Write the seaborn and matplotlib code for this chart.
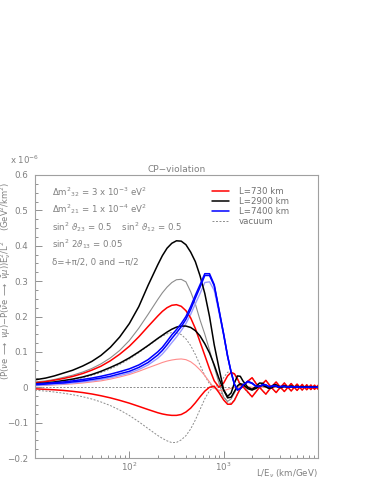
import math
import matplotlib
matplotlib.use("Agg")
import matplotlib.pyplot as plt
from matplotlib.lines import Line2D
from matplotlib.ticker import FixedLocator, MultipleLocator, FuncFormatter, NullFormatter
import seaborn as sns
import pandas as pd

# ---------------- data ----------------
x_le = [10, 13, 16, 20, 25, 32, 40, 50, 63, 79,
        100, 126, 158, 200, 224, 251, 282, 316, 355, 398,
        447, 501, 562, 631, 708, 794, 891, 1000,
        1100, 1200, 1300, 1400, 1500, 1600,
        1800, 2000, 2200, 2400, 2600, 2800, 3000, 3200, 3400, 3600, 3800, 4000,
        4400, 4800, 5200, 5600, 6000, 6400, 6800, 7200, 7600, 8000, 8400, 8800, 9200, 9600, 10000]

vac_plus = [0.0084, 0.0109, 0.0134, 0.0168, 0.0210, 0.0268, 0.0333, 0.0415, 0.0519, 0.0643,
            0.0798, 0.0976, 0.1167, 0.1363, 0.1445, 0.1509, 0.1547, 0.1544, 0.1488, 0.1369,
            0.1178, 0.0925, 0.0626, 0.0327, 0.0096, 0.0, 0.0075, 0.0273,
            0.0423, 0.0454, 0.0358, 0.0195, 0.0053, 0.0,
            0.0151, 0.0273, 0.0124, 0.0, 0.0105, 0.0195, 0.0091, 0.0, 0.0080, 0.0151, 0.0072, 0.0,
            0.0124, 0.0, 0.0105, 0.0, 0.0091, 0.0, 0.0080, 0.0, 0.0072, 0.0, 0.0065, 0.0, 0.0059, 0.0, 0.0055]
vac_zero = [0.0] * 61
vac_minus = [-0.0084, -0.0109, -0.0134, -0.0168, -0.0210, -0.0268, -0.0333, -0.0415, -0.0519, -0.0643,
             -0.0798, -0.0976, -0.1167, -0.1363, -0.1445, -0.1515, -0.1565, -0.1560, -0.1488, -0.1369,
             -0.1178, -0.0925, -0.0626, -0.0327, -0.0096, 0.0, -0.0075, -0.0273,
             -0.0423, -0.0454, -0.0358, -0.0195, -0.0053, 0.0,
             -0.0151, -0.0273, -0.0124, 0.0, -0.0105, -0.0195, -0.0091, 0.0, -0.0080, -0.0151, -0.0072, 0.0,
             -0.0124, 0.0, -0.0105, 0.0, -0.0091, 0.0, -0.0080, 0.0, -0.0072, 0.0, -0.0065, 0.0, -0.0059, 0.0, -0.0055]

red_plus = [0.0124, 0.0159, 0.0199, 0.0248, 0.0305, 0.0388, 0.0483, 0.0595, 0.0749, 0.0933,
            0.1158, 0.1426, 0.1717, 0.2013, 0.2145, 0.2249, 0.2317, 0.2334, 0.2288, 0.2165,
            0.196, 0.166, 0.128, 0.09, 0.052, 0.018, 0.0, 0.012,
            0.032, 0.042, 0.038, 0.024, 0.008, 0.002,
            0.017, 0.027, 0.011, 0.0, 0.0105, 0.0195, 0.009, 0.0, 0.008, 0.015, 0.007, 0.0,
            0.012, 0.0, 0.0105, 0.0, 0.009, 0.0, 0.008, 0.0, 0.007, 0.0, 0.0065, 0.0, 0.006, 0.0, 0.0055]
red_zero = [0.004, 0.005, 0.0065, 0.008, 0.0095, 0.012, 0.015, 0.018, 0.023, 0.029,
            0.036, 0.045, 0.055, 0.065, 0.07, 0.074, 0.077, 0.079, 0.08, 0.078,
            0.072, 0.062, 0.049, 0.033, 0.015, -0.002, -0.009, -0.01,
            -0.006, -0.003, -0.001, 0.0, 0.001, 0.002,
            0.002, 0.0, -0.001, 0.0, 0.0, 0.0, 0.0, 0.0, 0.0, 0.0, 0.0, 0.0,
            0.0, 0.0, 0.0, 0.0, 0.0, 0.0, 0.0, 0.0, 0.0, 0.0, 0.0, 0.0, 0.0, 0.0, 0.0]
red_minus = [-0.0044, -0.006, -0.0072, -0.009, -0.0115, -0.015, -0.019, -0.024, -0.030, -0.037,
             -0.045, -0.054, -0.063, -0.072, -0.0755, -0.078, -0.0795, -0.0795, -0.077, -0.07,
             -0.059, -0.044, -0.027, -0.011, 0.0, 0.003, -0.015, -0.036,
             -0.048, -0.048, -0.037, -0.0195, -0.004, 0.002,
             -0.013, -0.027, -0.013, 0.0, -0.0105, -0.0195, -0.009, 0.0, -0.008, -0.015, -0.007, 0.0,
             -0.012, 0.0, -0.0105, 0.0, -0.009, 0.0, -0.008, 0.0, -0.007, 0.0, -0.0065, 0.0, -0.006, 0.0, -0.0055]

black_plus = [0.021, 0.026, 0.032, 0.04, 0.048, 0.06, 0.073, 0.09, 0.113, 0.142,
              0.18, 0.228, 0.288, 0.346, 0.372, 0.393, 0.407, 0.414, 0.413, 0.403,
              0.382, 0.355, 0.315, 0.265, 0.2, 0.12, 0.055, -0.008,
              -0.03, -0.028, -0.012, 0.004, 0.01, 0.008,
              -0.004, -0.008, -0.003, 0.004, 0.005, 0.001, -0.003, -0.002, 0.002, 0.003, 0.0, -0.001,
              0.002, 0.0, 0.001, 0.0, 0.001, 0.0, 0.0, 0.0, 0.0, 0.0, 0.0, 0.0, 0.0, 0.0, 0.0]
black_zero = [0.015, 0.018, 0.022, 0.028, 0.034, 0.043, 0.053, 0.066, 0.083, 0.104,
              0.132, 0.167, 0.206, 0.248, 0.267, 0.283, 0.296, 0.304, 0.305, 0.298,
              0.27, 0.235, 0.19, 0.15, 0.105, 0.058, 0.012, -0.028,
              -0.04, -0.033, -0.016, 0.0, 0.008, 0.007,
              0.0, -0.005, -0.004, 0.001, 0.003, 0.001, -0.002, -0.002, 0.0, 0.002, 0.001, -0.001,
              0.001, 0.0, 0.0, 0.0, 0.0, 0.0, 0.0, 0.0, 0.0, 0.0, 0.0, 0.0, 0.0, 0.0, 0.0]
black_minus = [0.01, 0.012, 0.015, 0.019, 0.023, 0.029, 0.036, 0.045, 0.056, 0.068,
               0.083, 0.1, 0.118, 0.138, 0.147, 0.156, 0.164, 0.17, 0.173, 0.173,
               0.169, 0.16, 0.145, 0.123, 0.097, 0.063, 0.025, -0.008,
               -0.026, -0.016, 0.012, 0.032, 0.031, 0.018,
               0.0, -0.006, 0.002, 0.012, 0.011, 0.003, -0.002, 0.002, 0.007, 0.007, 0.003, 0.0,
               0.005, 0.001, 0.004, 0.001, 0.003, 0.001, 0.002, 0.001, 0.002, 0.001, 0.001, 0.0, 0.001, 0.0, 0.0]

blue_plus = [0.009, 0.011, 0.013, 0.015, 0.018, 0.022, 0.026, 0.031, 0.037, 0.044,
             0.052, 0.063, 0.078, 0.1, 0.113, 0.13, 0.148, 0.163, 0.18, 0.2,
             0.228, 0.26, 0.29, 0.321, 0.321, 0.29, 0.22, 0.15,
             0.088, 0.042, 0.008, -0.008, -0.004, 0.006,
             0.017, 0.012, 0.003, 0.002, 0.008, 0.007, 0.002, 0.002, 0.005, 0.004, 0.001, 0.002,
             0.003, 0.001, 0.002, 0.001, 0.001, 0.0, 0.0, 0.0, 0.0, 0.0, 0.0, 0.0, 0.0, 0.0, 0.0]
blue_minus = [0.007, 0.009, 0.011, 0.012, 0.015, 0.018, 0.022, 0.026, 0.031, 0.038,
              0.045, 0.056, 0.07, 0.091, 0.104, 0.12, 0.138, 0.154, 0.171, 0.192,
              0.22, 0.252, 0.283, 0.316, 0.316, 0.287, 0.219, 0.15,
              0.089, 0.043, 0.009, -0.007, -0.004, 0.006,
              0.016, 0.011, 0.003, 0.002, 0.007, 0.006, 0.002, 0.002, 0.004, 0.003, 0.001, 0.002,
              0.002, 0.001, 0.001, 0.001, 0.001, 0.0, 0.0, 0.0, 0.0, 0.0, 0.0, 0.0, 0.0, 0.0, 0.0]
blue_zero = [0.005, 0.0065, 0.008, 0.0095, 0.012, 0.015, 0.018, 0.022, 0.027, 0.033,
             0.04, 0.05, 0.063, 0.082, 0.094, 0.109, 0.126, 0.142, 0.16, 0.18,
             0.206, 0.236, 0.265, 0.296, 0.298, 0.274, 0.212, 0.146,
             0.087, 0.042, 0.009, -0.006, -0.003, 0.005,
             0.014, 0.010, 0.003, 0.002, 0.006, 0.005, 0.002, 0.002, 0.004, 0.003, 0.001, 0.001,
             0.002, 0.001, 0.001, 0.0, 0.0, 0.0, 0.0, 0.0, 0.0, 0.0, 0.0, 0.0, 0.0, 0.0, 0.0]

legend_labels = ["L=730 km", "L=2900 km", "L=7400 km", "vacuum"]
y_ticks = [-0.2, -0.1, 0.0, 0.1, 0.2, 0.3, 0.4, 0.5, 0.6]
x_ticks = [100, 1000]

# ---------------- figure ----------------
sns.set_style("white")
plt.rcParams['font.family'] = ['DejaVu Sans']
plt.rcParams['mathtext.fontset'] = 'dejavusans'

GRAY = "#808080"
fig = plt.figure(figsize=(3.82, 4.94), dpi=100)
ax = fig.add_axes([35/382, 1-458/494, 283/382, 283/494])

VAC = dict(color="#8c8c8c", lw=0.7, linestyle=(0, (2.0, 1.6)))
curves = [
    (vac_plus, VAC), (vac_zero, VAC), (vac_minus, VAC),
    (black_zero, dict(color="#8c8c8c", lw=0.8)),
    (red_zero, dict(color="#ff8c8c", lw=0.8)),
    (blue_zero, dict(color="#9a9aff", lw=1.0)),
    (red_plus, dict(color="#ff0000", lw=1.1)),
    (red_minus, dict(color="#ff0000", lw=1.1)),
    (black_plus, dict(color="#000000", lw=1.1)),
    (black_minus, dict(color="#000000", lw=1.1)),
    (blue_minus, dict(color="#0000ff", lw=1.1)),
    (blue_plus, dict(color="#0000ff", lw=1.1)),
]
for ys, st in curves:
    df = pd.DataFrame({"x": x_le, "y": ys})
    sns.lineplot(data=df, x="x", y="y", ax=ax, estimator=None, sort=False, **st)

ax.set_xscale("log")
ax.set_xlim(10, 10000)
ax.set_ylim(-0.2, 0.6)
ax.set_xlabel("")
ax.set_ylabel("")

ax.xaxis.set_major_locator(FixedLocator(x_ticks))
ax.xaxis.set_major_formatter(FuncFormatter(lambda v, p: r"$10^{%d}$" % round(math.log10(v))))
ax.xaxis.set_minor_locator(FixedLocator([k*10**e for e in (1, 2, 3) for k in range(2, 10)]))
ax.xaxis.set_minor_formatter(NullFormatter())
ax.yaxis.set_major_locator(FixedLocator(y_ticks))
ax.yaxis.set_minor_locator(MultipleLocator(0.025))

def yfmt(v, p):
    if abs(v) < 1e-9:
        return "0"
    return ("%.1f" % v).replace("-", "\u2212")
ax.yaxis.set_major_formatter(FuncFormatter(yfmt))

ax.tick_params(which="both", direction="in", colors=GRAY, labelcolor=GRAY, width=0.6,
               bottom=True, left=True, top=False, right=False)
ax.tick_params(which="major", length=5, labelsize=6.3)
ax.tick_params(which="minor", length=2.5)
ax.tick_params(axis="x", which="major", pad=2)
ax.tick_params(axis="y", which="major", pad=5)
for s in ax.spines.values():
    s.set_color("#a0a0a0")
    s.set_linewidth(0.8)

# legend
handles = [Line2D([], [], color="#ff0000", lw=1.1),
           Line2D([], [], color="#000000", lw=1.1),
           Line2D([], [], color="#0000ff", lw=1.1),
           Line2D([], [], **VAC)]
ax.legend(handles, legend_labels, loc="upper left", bbox_to_anchor=(212/382, 1-187/494),
          bbox_transform=fig.transFigure, frameon=False, fontsize=6.2, labelcolor="#707070",
          handlelength=2.0, handletextpad=1.1, labelspacing=0.12, borderpad=0, borderaxespad=0)

# texts
TXT = dict(color=GRAY, fontsize=6.2, va="center", ha="left")
fig.text(52/382, 1-192/494, r"$\Delta$m$^2{}_{32}$ = 3 x 10$^{-3}$ eV$^2$", **TXT)
fig.text(52/382, 1-209/494, r"$\Delta$m$^2{}_{21}$ = 1 x 10$^{-4}$ eV$^2$", **TXT)
fig.text(52/382, 1-227/494, r"sin$^2$ $\vartheta_{23}$ = 0.5    sin$^2$ $\vartheta_{12}$ = 0.5", **TXT)
fig.text(52/382, 1-244/494, r"sin$^2$ 2$\vartheta_{13}$ = 0.05", **TXT)
fig.text(52/382, 1-262/494, "\u03b4=+\u03c0/2, 0 and \u2212\u03c0/2", **TXT)

fig.text(176.5/382, 1-169/494, "CP\u2212violation", color=GRAY, fontsize=6.5, ha="center", va="center")
fig.text(10/382, 1-160/494, r"x 10$^{-6}$", color=GRAY, fontsize=6.2, ha="left", va="center")
fig.text(318/382, 1-474/494, r"L/E$_\nu$ (km/GeV)", color=GRAY, fontsize=6.2, ha="right", va="center")
fig.text(6/382, 1-281/494,
         r"(P($\nu$e $\longrightarrow$ $\nu\mu$)$-$P($\bar{\nu}$e $\longrightarrow$ $\bar{\nu}\mu$))E$^2_\nu$/L$^2$    (GeV$^2$/km$^2$)",
         color=GRAY, fontsize=6.0, rotation=90, ha="center", va="center")

fig.savefig("out.png", dpi=100)
